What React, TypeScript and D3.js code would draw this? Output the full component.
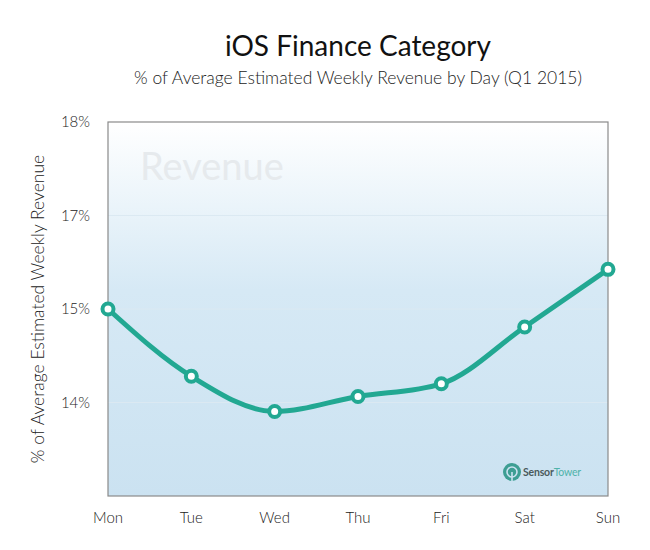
import React from 'react';
import * as d3 from 'd3';

const days = ['Mon', 'Tue', 'Wed', 'Thu', 'Fri', 'Sat', 'Sun'];
const revenue = [15.5, 14.6, 14.13, 14.33, 14.5, 15.26, 16.03];
const tickValues = [18, 16.75, 15.5, 14.25];
const tickLabels = ['18%', '17%', '15%', '14%'];

const W = 650;
const H = 550;
const margin = {top: 122, right: 42, bottom: 54, left: 108};
const font = 'Lato, "Open Sans", sans-serif';
const teal = '#22a892';

export default function App() {
  const innerW = W - margin.left - margin.right;
  const innerH = H - margin.top - margin.bottom;

  const x = d3.scalePoint().domain(days).range([0, innerW]);
  const y = d3.scaleLinear().domain([13, 18]).range([innerH, 0]);

  const line = d3.line<number>()
    .x((d, i) => x(days[i]) as number)
    .y(d => y(d))
    .curve(d3.curveMonotoneX);

  const cx = margin.left + innerW / 2;

  return (
    <svg width={W} height={H} style={{position: 'absolute', left: 0, top: 0}} fontFamily={font}>
      <defs>
        <linearGradient id="bg" x1="0" y1="0" x2="0" y2="1">
          <stop offset="0%" stopColor="#ffffff" />
          <stop offset="45%" stopColor="#d6e9f5" />
          <stop offset="100%" stopColor="#cbe2f1" />
        </linearGradient>
      </defs>
      <text x={cx} y={56} textAnchor="middle" fontSize={28} fill="#111">iOS Finance Category</text>
      <text x={cx} y={84} textAnchor="middle" fontSize={17.5} fontWeight={300} fill="#222">
        % of Average Estimated Weekly Revenue by Day (Q1 2015)
      </text>
      <g transform={`translate(${margin.left},${margin.top})`}>
        <rect x={0} y={0} width={innerW} height={innerH} fill="url(#bg)" />
        <text x={32} y={58} fontSize={38} fill="#e6eaed">Revenue</text>
        {tickValues.slice(1).map(t => (
          <line key={t} x1={0} x2={innerW} y1={y(t)} y2={y(t)} stroke="#dbe9f2" strokeWidth={1} />
        ))}
        <rect x={0} y={0} width={innerW} height={innerH} fill="none" stroke="#8a8a8a" strokeWidth={1.2} />
        {tickValues.map((t, i) => (
          <text key={t} x={-18} y={y(t)} dy="0.35em" textAnchor="end" fontSize={15} fontWeight={300} fill="#222">
            {tickLabels[i]}
          </text>
        ))}
        {days.map(d => (
          <text key={d} x={x(d)} y={innerH + 27} textAnchor="middle" fontSize={15} fontWeight={300} fill="#222">{d}</text>
        ))}
        <path d={line(revenue) || ''} fill="none" stroke={teal} strokeWidth={5} strokeLinecap="round" />
        {revenue.map((v, i) => (
          <circle key={days[i]} cx={x(days[i])} cy={y(v)} r={5.5} fill="#fff" stroke={teal} strokeWidth={4} />
        ))}
        <g transform={`translate(${innerW - 105},${innerH - 24})`}>
          <circle cx={9} cy={0} r={9} fill="#3d9e93" />
          <circle cx={9} cy={0} r={5} fill="none" stroke="#cbe2f1" strokeWidth={1.6} />
          <line x1={9} y1={0} x2={9} y2={9} stroke="#cbe2f1" strokeWidth={1.6} />
          <text x={20} y={4} fontSize={10.5} fontWeight={700} fill="#4a5a5c" letterSpacing={-0.2}>Sensor<tspan fontWeight={400} fill="#4fb3aa">Tower</tspan></text>
        </g>
      </g>
      <text transform={`translate(44,${margin.top + innerH / 2}) rotate(-90)`} textAnchor="middle" fontSize={17.5} fontWeight={300} fill="#222">
        % of Average Estimated Weekly Revenue
      </text>
    </svg>
  );
}
